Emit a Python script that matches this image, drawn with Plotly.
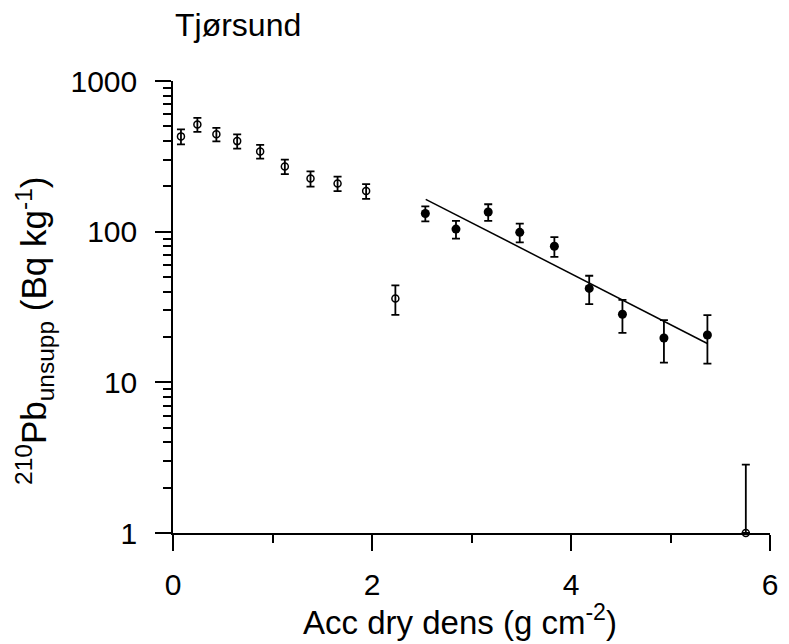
import plotly.graph_objects as go

# open symbols (not used in fit)
open_x = [0.08, 0.245, 0.436, 0.645, 0.876, 1.124, 1.382, 1.654, 1.941, 2.235, 5.757]
open_y = [429, 515, 443, 399, 341, 271, 225, 209, 186, 36, 1]
open_err_up = [49, 55, 45, 43, 36, 30, 26, 23, 21, 8, 1.84]
open_err_dn = [49, 55, 45, 43, 36, 30, 26, 23, 21, 8, 0]

# filled symbols (used in fit)
fill_x = [2.536, 2.844, 3.168, 3.485, 3.833, 4.183, 4.517, 4.934, 5.371]
fill_y = [132, 104, 135, 99, 80, 42, 28.3, 19.7, 20.6]
fill_err = [15, 14, 17, 14, 12, 9, 7, 6.2, 7.3]

# exponential fit line
fit_x = [2.54, 5.37]
fit_y = [164, 18.1]

x_ticks = [0, 2, 4, 6]
x_minor = [1, 3, 5]
y_ticks = [1, 10, 100, 1000]
y_ticktext = ["1", "10", "100", "1000"]
y_minor = [m * 10 ** d for d in range(3) for m in range(2, 10)]

FONT = "Liberation Sans, Arial, sans-serif"

fig = go.Figure()

fig.add_trace(go.Scatter(
    x=fit_x, y=fit_y, mode="lines",
    line=dict(color="black", width=1.5),
    hoverinfo="skip", cliponaxis=False,
))

fig.add_trace(go.Scatter(
    x=open_x, y=open_y, mode="markers",
    marker=dict(symbol="circle-open", size=7, color="black", line=dict(width=1.5)),
    error_y=dict(type="data", symmetric=False, array=open_err_up, arrayminus=open_err_dn,
                 color="black", thickness=1.8, width=4),
    cliponaxis=False,
))

fig.add_trace(go.Scatter(
    x=fill_x, y=fill_y, mode="markers",
    marker=dict(symbol="circle", size=9, color="black"),
    error_y=dict(type="data", array=fill_err, color="black", thickness=1.8, width=4),
    cliponaxis=False,
))

fig.update_layout(
    width=789, height=644,
    margin=dict(l=173, r=11, t=81, b=111),
    plot_bgcolor="white", paper_bgcolor="white",
    showlegend=False,
    font=dict(family=FONT, size=30, color="black"),
    xaxis=dict(
        range=[0, 6], tickvals=x_ticks, ticks="outside", ticklen=16, tickwidth=1.5,
        tickcolor="black", showline=True, linecolor="black", linewidth=1.5,
        showgrid=False, zeroline=False, ticklabelstandoff=8,
        minor=dict(tickvals=x_minor, ticks="outside", ticklen=8, tickwidth=1.5, tickcolor="black"),
    ),
    yaxis=dict(
        type="log", range=[0, 3], tickvals=y_ticks, ticktext=y_ticktext,
        ticks="outside", ticklen=16, tickwidth=1.5, tickcolor="black",
        showline=True, linecolor="black", linewidth=1.5,
        showgrid=False, zeroline=False, ticklabelstandoff=12,
        minor=dict(tickvals=y_minor, ticks="outside", ticklen=8, tickwidth=1.5, tickcolor="black"),
    ),
    annotations=[
        dict(text="Tjørsund", xref="paper", yref="paper", x=0, y=1.123,
             xanchor="left", yanchor="middle", showarrow=False, font=dict(size=32)),
        dict(text="Acc dry dens (g cm<sup>-2</sup>)", xref="paper", yref="paper",
             x=(464 - 173) / 605, y=-0.192, xanchor="center", yanchor="middle",
             showarrow=False, font=dict(size=33)),
        dict(text="<sup>210</sup>Pb<sub>unsupp</sub> (Bq kg<sup>-1</sup>)",
             xref="paper", yref="paper", x=(32 - 173) / 605, y=(533 - 331) / 452.3,
             xanchor="center", yanchor="middle", textangle=-90,
             showarrow=False, font=dict(size=35)),
    ],
)

# drop the page's default body margin so the figure sits at the window corner
fig.write_html("out.html", config={"displayModeBar": False},
               post_script="document.body.style.margin='0';")
